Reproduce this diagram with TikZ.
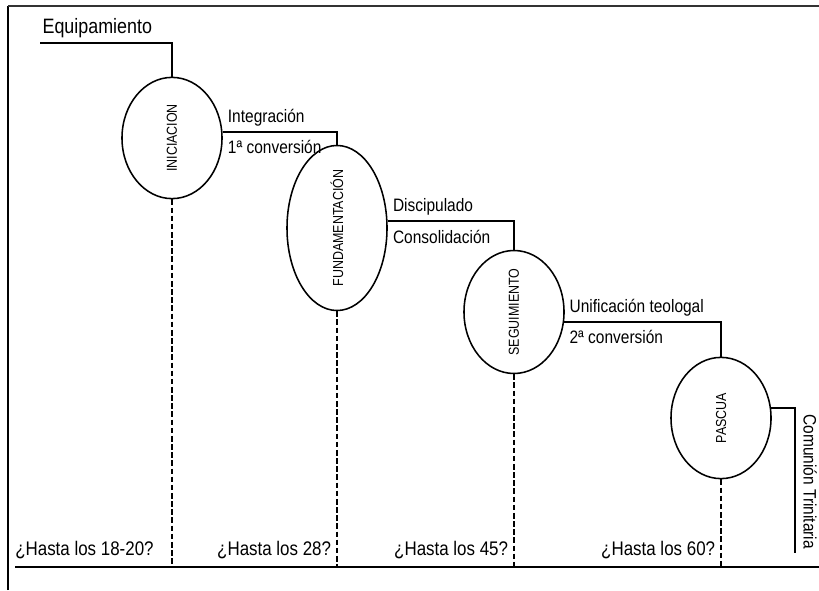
\documentclass[tikz,border=0pt]{standalone}
\usepackage{fontspec}
\setmainfont{Liberation Sans}
\newfontfamily\narrowfont[FakeStretch=0.86]{Liberation Sans}
\usepackage{graphicx}
\usetikzlibrary{shapes.geometric}
\tikzset{stage/.style={ellipse, draw, line width=1.1pt, minimum width=2.5cm, minimum height=3.03cm, inner sep=0pt,
  font=\narrowfont\fontsize{10.3}{12}\selectfont},
%labels next to the steps
lbl/.style={font=\narrowfont\fontsize{12.8}{15}\selectfont, inner xsep=3pt, inner ysep=3pt},
sub/.style={lbl, below right, yshift=-2.5pt},
age/.style={font=\narrowfont\fontsize{14}{16}\selectfont, inner sep=0pt},
link/.style={line width=1.7pt},
stem/.style={line width=1.9pt, dash pattern=on 4pt off 1.8pt}}

\begin{document}
\begin{tikzpicture}[x=0.025cm, y=-0.025cm]

    \useasboundingbox (0,0) rectangle (819,590);

    \coordinate (start) at (40,43);
    \coordinate (floorL) at (15,567);
    \coordinate (floorR) at (819,567);
    \coordinate (endT) at (795,553);

    \node[stage] (inic) at (172,138) {\rotatebox{90}{INICIACION}};
    \node[stage] (fund) at (337,228) {\rotatebox{90}{FUNDAMENTACIÓN}};
    \node[stage] (segu) at (514,312) {\rotatebox{90}{SEGUIMIENTO}};
    \node[stage] (pasc) at (721,418) {\rotatebox{90}{PASCUA}};

    % frame
    \draw[line width=0.8pt] (8,590) -- (8,6);
    \draw[line width=1.6pt, black!80] (8,6) -- (819,6);

    \draw[link] (start) node[lbl, above right, font=\narrowfont\fontsize{14.8}{16}\selectfont, inner xsep=1pt] {Equipamiento} -| (inic.north);
    \draw[link] (inic.7) node[lbl, above right] {Integración}
        node[sub] {1ª conversión} -| (fund.north);
    \draw[link] (fund.8) node[lbl, above right] {Discipulado}
        node[sub] {Consolidación} -| (segu.north);
    \draw[link] (segu.-11) node[lbl, above right] {Unificación teologal}
        node[sub] {2ª conversión} -| (pasc.north);
    \draw[link] (pasc.11) -| (endT);
    \node[lbl, rotate=-90, anchor=south west] (comun) at (799,410) {Comunión Trinitaria};

    \foreach \i in {inic,fund,segu,pasc}
    \draw[stem] (\i.south) -- (\i.south |- floorL);

    \draw[line width=1.6pt] (floorL) -- (floorR);

    \node[age, anchor=base west] (age1) at (15,555) {¿Hasta los 18-20?};
    \foreach \i/\n/\t in {fund/2/28,segu/3/45,pasc/4/60}
    \node[age, anchor=base east] (age\n) at ([xshift=-4pt]\i.south |- 0,555) {¿Hasta los \t?};

\end{tikzpicture}
\end{document}
